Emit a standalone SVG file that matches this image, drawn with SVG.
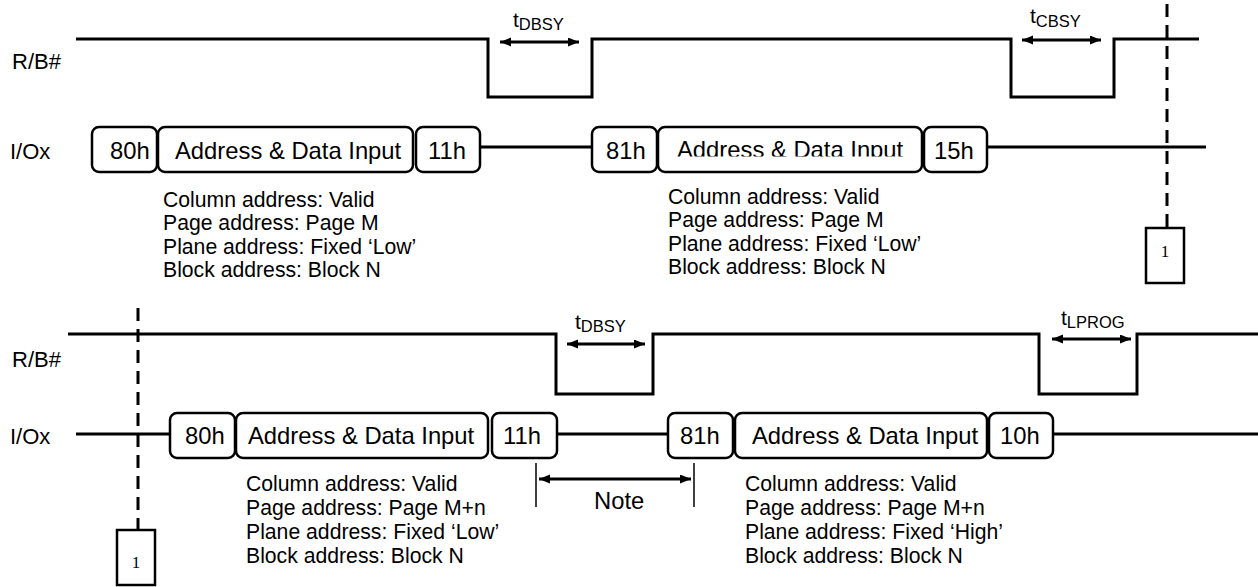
<svg xmlns="http://www.w3.org/2000/svg" width="1258" height="587" viewBox="0 0 1258 587">
<style>
text{font-family:"Liberation Sans",Arial,sans-serif;fill:#000}
.lbl{font-size:22px}
.bx{font-size:23.8px}
.ad{font-size:21.2px}
.tm{font-size:21px}
.sb{font-size:16.5px}
.box{fill:#fff;stroke:#000;stroke-width:2.5}
.sig{fill:none;stroke:#000;stroke-width:3}
.arr{fill:none;stroke:#000;stroke-width:3}
.dash{fill:none;stroke:#000;stroke-width:3;stroke-dasharray:13 8}
.tick{stroke:#000;stroke-width:1.5}
.ref{fill:#fff;stroke:#000;stroke-width:2.5}
.one{font-family:"Liberation Serif","Times New Roman",serif;font-size:17px}
</style>
<defs>
<marker id="ah" markerUnits="userSpaceOnUse" markerWidth="13" markerHeight="11" refX="11" refY="4.5" orient="auto-start-reverse">
<path d="M0,0 L11,4.5 L0,9 z" fill="#000"/>
</marker>
<clipPath id="cut"><rect x="658" y="120" width="264" height="36.5"/></clipPath>
</defs>
<rect width="1258" height="587" fill="#fff"/>

<g id="labels">
<text class="lbl" x="12" y="69">R/B#</text>
<text class="lbl" x="10" y="159">I/Ox</text>
<text class="lbl" x="12" y="367">R/B#</text>
<text class="lbl" x="10" y="444">I/Ox</text>
</g>

<g id="connectors">
<path class="sig" d="M76,39 H488 V97 H592 V39 H1011 V97 H1114 V39 H1199"/>
<path class="sig" d="M68,334 H556 V394 H653 V334 H1039 V394 H1137 V334 H1258"/>
<path class="sig" d="M480,147 H592 M987,147 H1206"/>
<path class="sig" d="M76,434 H170 M557,434 H668 M1053,434 H1258"/>
<line class="dash" x1="1167" y1="4" x2="1167" y2="228"/>
<line class="dash" x1="138" y1="308" x2="138" y2="530"/>
<line class="arr" x1="500" y1="42" x2="579" y2="42" marker-start="url(#ah)" marker-end="url(#ah)"/>
<line class="arr" x1="1022" y1="40" x2="1101" y2="40" marker-start="url(#ah)" marker-end="url(#ah)"/>
<line class="arr" x1="567" y1="344" x2="645" y2="344" marker-start="url(#ah)" marker-end="url(#ah)"/>
<line class="arr" x1="1052" y1="339" x2="1131" y2="339" marker-start="url(#ah)" marker-end="url(#ah)"/>
<line class="tick" x1="536" y1="463" x2="536" y2="507"/>
<line class="tick" x1="694" y1="463" x2="694" y2="507"/>
<line class="arr" x1="539" y1="479" x2="691" y2="479" marker-start="url(#ah)" marker-end="url(#ah)"/>
</g>

<g id="timing-labels">
<text class="tm" x="513" y="27">t<tspan class="sb" dy="3">DBSY</tspan></text>
<text class="tm" x="1030" y="23">t<tspan class="sb" dy="4">CBSY</tspan></text>
<text class="tm" x="575" y="329">t<tspan class="sb" dy="3">DBSY</tspan></text>
<text class="tm" x="1061" y="325">t<tspan class="sb" dy="2.5">LPROG</tspan></text>
<text class="bx" x="594" y="509">Note</text>
</g>

<g id="top-80h"><rect class="box" x="92" y="127" width="65" height="45" rx="7"/><text class="bx" x="110" y="159">80h</text></g>
<g id="top-addr1"><rect class="box" x="158" y="127" width="255" height="45" rx="7"/><text class="bx" x="175" y="159">Address &amp; Data Input</text></g>
<g id="top-11h"><rect class="box" x="416" y="127" width="64" height="45" rx="7"/><text class="bx" x="428" y="159">11h</text></g>
<g id="top-81h"><rect class="box" x="592" y="127" width="65" height="45" rx="7"/><text class="bx" x="606" y="159">81h</text></g>
<g id="top-addr2"><rect class="box" x="658" y="127" width="264" height="45" rx="7"/><text class="bx" x="677" y="158" clip-path="url(#cut)">Address &amp; Data Input</text></g>
<g id="top-15h"><rect class="box" x="924" y="127" width="63" height="45" rx="7"/><text class="bx" x="934" y="159">15h</text></g>

<g id="bot-80h"><rect class="box" x="170" y="413" width="65" height="45" rx="7"/><text class="bx" x="185" y="444">80h</text></g>
<g id="bot-addr1"><rect class="box" x="236" y="413" width="252" height="45" rx="7"/><text class="bx" x="248" y="444">Address &amp; Data Input</text></g>
<g id="bot-11h"><rect class="box" x="492" y="413" width="65" height="45" rx="7"/><text class="bx" x="503" y="444">11h</text></g>
<g id="bot-81h"><rect class="box" x="668" y="413" width="65" height="45" rx="7"/><text class="bx" x="680" y="444">81h</text></g>
<g id="bot-addr2"><rect class="box" x="735" y="413" width="252" height="45" rx="7"/><text class="bx" x="752" y="444">Address &amp; Data Input</text></g>
<g id="bot-10h"><rect class="box" x="989" y="413" width="64" height="45" rx="7"/><text class="bx" x="1000" y="444">10h</text></g>

<g id="ref-top"><rect class="ref" x="1146" y="228" width="38" height="55"/><text class="one" x="1165" y="257" text-anchor="middle">1</text></g>
<g id="ref-bot"><rect class="ref" x="117" y="530" width="38" height="55"/><text class="one" x="136" y="568" text-anchor="middle">1</text></g>

<g id="addr-notes">
<text class="ad" x="163" y="207">Column address: Valid</text>
<text class="ad" x="163" y="230">Page address: Page M</text>
<text class="ad" x="163" y="254">Plane address: Fixed ‘Low’</text>
<text class="ad" x="163" y="277">Block address: Block N</text>
<text class="ad" x="668" y="203.5">Column address: Valid</text>
<text class="ad" x="668" y="227">Page address: Page M</text>
<text class="ad" x="668" y="250.5">Plane address: Fixed ‘Low’</text>
<text class="ad" x="668" y="274">Block address: Block N</text>
<text class="ad" x="246" y="491">Column address: Valid</text>
<text class="ad" x="246" y="515">Page address: Page M+n</text>
<text class="ad" x="246" y="539">Plane address: Fixed ‘Low’</text>
<text class="ad" x="246" y="563">Block address: Block N</text>
<text class="ad" x="745" y="491">Column address: Valid</text>
<text class="ad" x="745" y="515">Page address: Page M+n</text>
<text class="ad" x="745" y="539">Plane address: Fixed ‘High’</text>
<text class="ad" x="745" y="563">Block address: Block N</text>
</g>
</svg>
